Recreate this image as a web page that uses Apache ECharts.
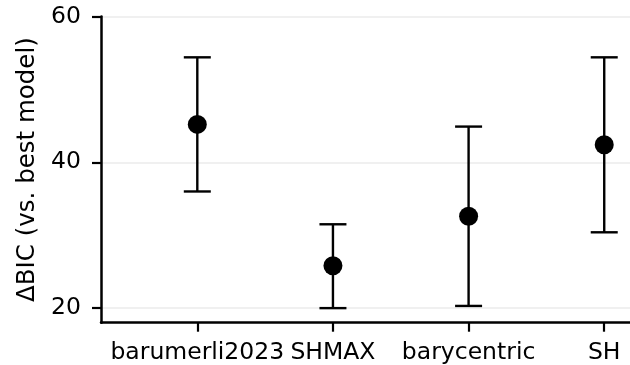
<!DOCTYPE html>
<html><head><meta charset="utf-8">
<script src="https://cdn.jsdelivr.net/npm/echarts@6/dist/echarts.min.js"></script>
<style>html,body{margin:0;padding:0;background:#fff}#c{width:630px;height:365px}</style>
</head><body><div id="c"></div>
<script>
const categories = ['barumerli2023', 'SHMAX', 'barycentric', 'SH'];
const means = [45.2, 25.8, 32.6, 42.4];
const lower = [36.0, 20.0, 20.3, 30.4];
const upper = [54.4, 31.5, 44.9, 54.4];
const yTicks = [20, 40, 60];
const yName = 'ΔBIC (vs. best model)';

const xPos = categories.map((c, i) => i);
const font = 'DejaVu Sans';
const chart = echarts.init(document.getElementById('c'), null, {renderer: 'canvas'});
chart.setOption({
  animation: false,
  grid: {left: 101, right: 0, top: 16.5, bottom: 42.3, containLabel: false},
  xAxis: {
    type: 'value', min: -0.71, max: 3.19,
    splitLine: {show: false},
    axisLine: {show: true, onZero: false, lineStyle: {color: '#000', width: 2.5}},
    axisTick: {show: true, customValues: xPos, length: 9, lineStyle: {color: '#000', width: 2.2}},
    axisLabel: {customValues: xPos, formatter: v => categories[Math.round(v)], color: '#000',
      fontFamily: font, fontSize: 23.5, margin: 18}
  },
  yAxis: {
    type: 'value', min: 18, max: 60,
    name: yName, nameLocation: 'middle', nameGap: 58,
    nameTextStyle: {fontFamily: font, fontSize: 24.5, color: '#000'},
    splitLine: {show: false},
    axisLine: {show: true, onZero: false, lineStyle: {color: '#000', width: 2.5}},
    axisTick: {show: true, customValues: yTicks, length: 9, lineStyle: {color: '#000', width: 2.2}},
    axisLabel: {customValues: yTicks, color: '#000', fontFamily: font, fontSize: 23.5, margin: 20}
  },
  series: [
    {
      type: 'line', data: [], z: 0, silent: true,
      markLine: {
        z: 0, silent: true, symbol: 'none', label: {show: false},
        lineStyle: {color: '#ebebeb', width: 1.5, type: 'solid'},
        data: yTicks.map(v => ({yAxis: v}))
      }
    },
    {
      type: 'custom', z: 2,
      data: xPos.map((x, i) => [x, lower[i], upper[i]]),
      renderItem: function (params, api) {
        const x = api.value(0);
        const lo = api.coord([x, api.value(1)]);
        const hi = api.coord([x, api.value(2)]);
        const hw = 13.5;
        const st = {stroke: '#000', lineWidth: 2.4};
        return {type: 'group', children: [
          {type: 'line', shape: {x1: lo[0], y1: lo[1], x2: hi[0], y2: hi[1]}, style: st},
          {type: 'line', shape: {x1: lo[0] - hw, y1: lo[1], x2: lo[0] + hw, y2: lo[1]}, style: st},
          {type: 'line', shape: {x1: hi[0] - hw, y1: hi[1], x2: hi[0] + hw, y2: hi[1]}, style: st}
        ]};
      }
    },
    {
      type: 'scatter', z: 3,
      data: xPos.map((x, i) => [x, means[i]]),
      symbol: 'circle', symbolSize: 19,
      itemStyle: {color: '#000', opacity: 1}
    }
  ]
});
</script></body></html>
